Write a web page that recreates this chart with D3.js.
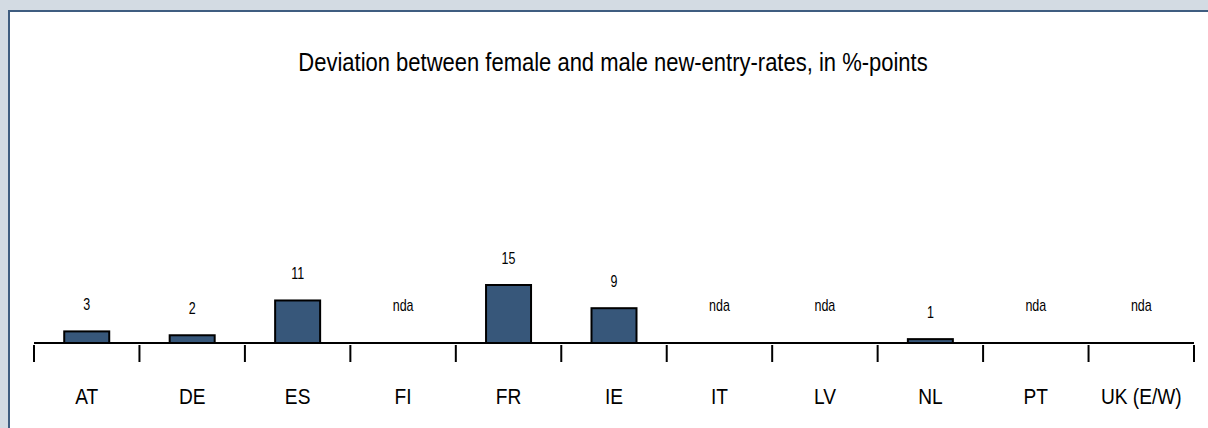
<!DOCTYPE html>
<html>
<head>
<meta charset="utf-8">
<script src="https://cdn.jsdelivr.net/npm/d3@7"></script>
<style>
  html, body { margin: 0; padding: 0; background: #d3dbe3; }
  svg { display: block; }
  text { font-family: "Liberation Sans Narrow", "Arial Narrow", "Liberation Sans", sans-serif; fill: #000; }
</style>
</head>
<body>
<svg id="chart" width="1208" height="428"></svg>
<script>
const categories = ["AT", "DE", "ES", "FI", "FR", "IE", "IT", "LV", "NL", "PT", "UK (E/W)"];
const values = [3, 2, 11, null, 15, 9, null, null, 1, null, null];
const valueLabels = ["3", "2", "11", "nda", "15", "9", "nda", "nda", "1", "nda", "nda"];
const title = "Deviation between female and male new-entry-rates, in %-points";

const svg = d3.select("#chart");
const W = 1208, H = 428;

// panel
svg.append("rect")
  .attr("x", 9).attr("y", 11)
  .attr("width", W + 20).attr("height", H + 20)
  .attr("fill", "#ffffff")
  .attr("stroke", "#3f5d80")
  .attr("stroke-width", 2);

// condensed text helper
function ctext(sel, sx) {
  return sel.attr("transform", function(d) {
    const t = d3.select(this);
    return `translate(${t.attr("data-x")},${t.attr("data-y")}) scale(${sx},1)`;
  });
}

svg.append("text")
  .attr("data-x", 613).attr("data-y", 71)
  .attr("text-anchor", "middle")
  .attr("font-size", 25)
  .text(title)
  .call(ctext, 0.88);

const x = d3.scaleBand().domain(categories).range([34, 1194]).paddingInner(0).paddingOuter(0);
const y = d3.scaleLinear().domain([0, 15]).range([343, 285]);

const barW = 45;
const data = categories.map((c, i) => ({ c, v: values[i], label: valueLabels[i] }));

// bars
svg.append("g").selectAll("rect")
  .data(data.filter(d => d.v !== null))
  .join("rect")
  .attr("x", d => x(d.c) + x.bandwidth() / 2 - barW / 2)
  .attr("y", d => y(d.v))
  .attr("width", barW)
  .attr("height", d => y(0) - y(d.v))
  .attr("fill", "#37577a")
  .attr("stroke", "#000")
  .attr("stroke-width", 2);

// axis
const axis = d3.axisBottom(x).tickSize(0).tickFormat("");
const gAx = svg.append("g").attr("transform", `translate(0,${y(0)})`).call(axis);
gAx.select(".domain").attr("stroke", "#000").attr("stroke-width", 2)
  .attr("d", `M${x.range()[0]},0H${x.range()[1]}`);
gAx.selectAll(".tick").remove();

// tick marks at band boundaries
const bounds = categories.map(c => x(c)).concat([x.range()[1]]);
svg.append("g").selectAll("line")
  .data(bounds)
  .join("line")
  .attr("x1", d => d).attr("x2", d => d)
  .attr("y1", y(0) + 2).attr("y2", y(0) + 19)
  .attr("stroke", "#000").attr("stroke-width", 2);

// category labels
svg.append("g").selectAll("text")
  .data(categories)
  .join("text")
  .attr("data-x", d => x(d) + x.bandwidth() / 2)
  .attr("data-y", 404)
  .attr("text-anchor", "middle")
  .attr("font-size", 22)
  .text(d => d)
  .call(ctext, 0.87);

// value labels
svg.append("g").selectAll("text")
  .data(data)
  .join("text")
  .attr("data-x", d => x(d.c) + x.bandwidth() / 2)
  .attr("data-y", d => d.v !== null ? y(d.v) - 21 : y(0) - 32)
  .attr("text-anchor", "middle")
  .attr("font-size", 16)
  .text(d => d.label)
  .call(ctext, 0.78);
</script>
</body>
</html>
